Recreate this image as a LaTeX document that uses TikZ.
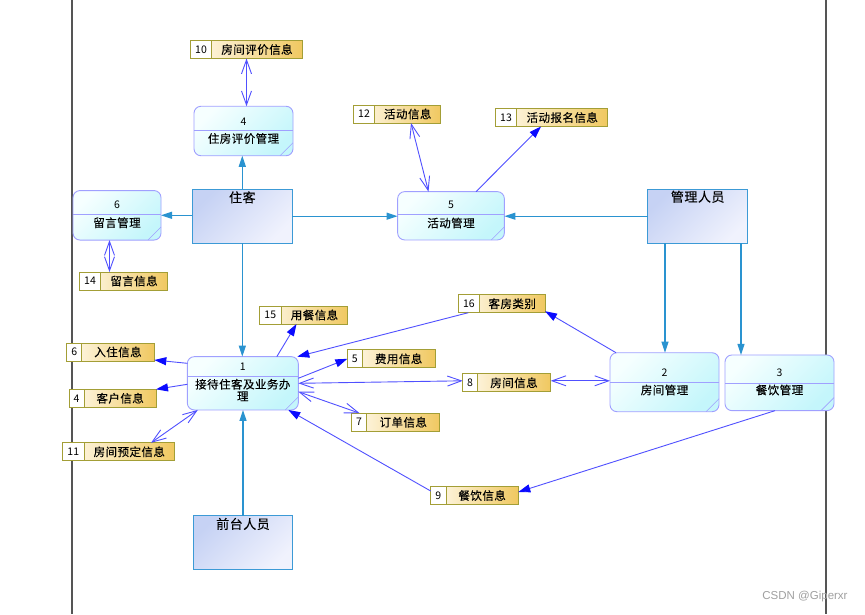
\documentclass[tikz,border=0pt]{standalone}
\usepackage{fontspec}
\setmainfont{Noto Sans CJK SC}
\newfontfamily\cjkf[LetterSpace=4,FakeBold=0.15]{Noto Sans CJK SC}
\newfontfamily\wmf{Liberation Sans}
\usetikzlibrary{arrows.meta,calc}
\definecolor{entb}{HTML}{3C9AD6}
\definecolor{entA}{HTML}{C6D2F4}
\definecolor{entB}{HTML}{F0F2FD}
\definecolor{procb}{HTML}{A0A0FF}
\definecolor{procA}{HTML}{F6FFFF}
\definecolor{procB}{HTML}{C4F6FB}
\definecolor{storeb}{HTML}{A39E36}
\definecolor{storeA}{HTML}{FFFBF0}
\definecolor{storeB}{HTML}{F0C860}
\definecolor{linec}{HTML}{2A93D0}
\definecolor{flowc}{HTML}{5050FF}
\definecolor{arrc}{HTML}{0A0AFF}
\definecolor{framec}{HTML}{555555}
\definecolor{wmc}{HTML}{A0A0A0}
\tikzset{
 entity/.style={draw=entb, line width=1pt, top color=entA, bottom color=entB, shading angle=45, inner sep=0pt, outer sep=0pt},
 proc/.style={draw=procb, line width=0.9pt, rounded corners=7pt, top color=procA, bottom color=procB, shading angle=45, inner sep=0pt, outer sep=0pt},
 store/.style={draw=storeb, line width=1pt, left color=storeA, right color=storeB, minimum height=18pt, inner sep=0pt, outer sep=0pt},
 numf/.style={font=\fontsize{10.5}{11}\selectfont, inner sep=0pt, text=black},
 ptxt/.style={font=\cjkf\fontsize{11.5}{12}\selectfont, align=center, inner sep=0pt},
 etxt/.style={font=\cjkf\fontsize{13}{14}\selectfont, inner sep=0pt},
 eline/.style={draw=linec, line width=1.1pt, -{Triangle[length=11pt,width=7pt]}},
 fflow/.style={draw=flowc, line width=0.9pt, -{Triangle[length=12pt,width=8pt,color=arrc]}},
 dflow/.style={draw=flowc, line width=0.9pt, {Straight Barb[length=14pt,width=10pt]}-{Straight Barb[length=14pt,width=10pt]}},
 wm/.style={font=\wmf\fontsize{11.5}{12}\selectfont, text=wmc, inner sep=0pt}
}
\newcommand{\proc}[9]{%
 \node[proc, minimum width=#3pt, minimum height=#4pt] (#1) at (#2) {};
 \draw[procb, line width=0.8pt] ([yshift=#5pt]#1.west) -- ([yshift=#5pt]#1.east);
 \draw[procb, line width=0.6pt] ([xshift=-13pt]#1.south east) -- ([yshift=13pt]#1.south east);
 \node[numf] (#1n) at ([yshift=#6pt]#1.center) {#8};
 \node[ptxt] (#1t) at ([yshift=#7pt]#1.center) {#9};
}
\newcommand{\dstore}[7]{%
 \node[store, minimum width=#4pt] (#1) at (#2,#3) {};
 \draw[storeb, line width=1pt, fill=white] (#1.north west) rectangle ([xshift=#5pt]#1.south west);
 \node[numf] (#1n) at ([xshift=#5*0.5pt]#1.west) {#6};
 \node[ptxt] (#1t) at ([xshift=#5*0.5pt]#1.center) {#7};
}
\newcommand{\ent}[6]{%
 \node[entity, minimum width=#3pt, minimum height=#4pt] (#1) at (#2) {};
 \node[etxt] (#1t) at ([yshift=-#5pt]#1.north) {#6};
}
\begin{document}
\begin{tikzpicture}[x=1pt,y=-1pt]
\fill[white] (0,0) rectangle (865,614);
\useasboundingbox (0,0) rectangle (865,614);
\draw[framec, line width=1.5pt] (72,0) -- (72,614);
\draw[framec, line width=1.5pt] (826,0) -- (826,614);

% entities
\ent{e1}{242.3,216.2}{100}{54.3}{8.3}{住客}
\ent{e2}{697.7,216.2}{100}{54.3}{7.7}{管理人员}
\ent{e3}{243,542.8}{99.4}{54.3}{8.3}{前台人员}

% processes
\proc{p4}{243.5,131}{99}{49.5}{1}{9}{-7.5}{4}{住房评价管理}
\proc{p6}{117,215.3}{88}{49.5}{0.6}{10.3}{-7.4}{6}{留言管理}
\proc{p5}{451,215.8}{106.7}{48.3}{1}{10.8}{-7.2}{5}{活动管理}
\proc{p1}{242.8,383.3}{111}{53.3}{6.6}{16.6}{-6.7}{1}{接待住客及业务办\\理}
\proc{p2}{664.5,382.2}{109}{59}{-0.5}{9.5}{-7.8}{2}{房间管理}
\proc{p3}{779.5,382.8}{109}{55.7}{-0.2}{9.8}{-7.2}{3}{餐饮管理}

% data stores
\dstore{s10}{246.5}{49.5}{112}{21}{10}{房间评价信息}
\dstore{s12}{397}{114}{87.5}{21.5}{12}{活动信息}
\dstore{s13}{551.5}{117.5}{112.5}{21.5}{13}{活动报名信息}
\dstore{s14}{123.3}{281}{88}{21.5}{14}{留言信息}
\dstore{s15}{303.5}{315}{88.5}{22}{15}{用餐信息}
\dstore{s16}{501.7}{303.7}{86.7}{21}{16}{客房类别}
\dstore{s6i}{110.5}{352}{87.6}{15}{6}{入住信息}
\dstore{s4c}{112.5}{398.3}{87}{15.3}{4}{客户信息}
\dstore{s11}{118.3}{451.8}{112}{22}{11}{房间预定信息}
\dstore{s5f}{391.2}{358.8}{87.7}{15}{5}{费用信息}
\dstore{s8}{506.7}{382.8}{88}{14.6}{8}{房间信息}
\dstore{s7}{395.8}{422.2}{88.3}{15}{7}{订单信息}
\dstore{s9}{474.5}{495.5}{87.6}{15.3}{9}{餐饮信息}

% entity -> process connectors
\draw[eline] (e1.north) -- (e1.north |- p4.south);
\draw[eline] (p6.east -| e1.west) -- (p6.east);
\draw[eline] (e1.east) -- (e1.east -| p5.west);
\draw[eline] (e2.west) -- (e2.west -| p5.east);
\draw[eline] (e1.south) -- (e1.south |- p1.north);
\coordinate (e2a) at ([xshift=-32.7pt]e2.south);
\coordinate (e2b) at ([xshift=43.3pt]e2.south);
\draw[eline] (e2a) -- (e2a |- p2.north);
\draw[eline] (e2b) -- (e2b |- p3.north);
\draw[eline] (e3.north) -- (e3.north |- p1.south);

% data flows
\draw[dflow] (s10.south) -- (s10.south |- p4.north);
\draw[dflow] ([xshift=14pt]s12.south) -- ([xshift=-22.5pt]p5.north);
\draw[fflow] ([xshift=25pt]p5.north) -- ([xshift=-10.5pt]s13.south);
\draw[dflow] ([xshift=-7.5pt]p6.south) -- ([xshift=-13.8pt]s14.north);
\draw[fflow] ([xshift=34pt]p1.north) -- ([xshift=-7pt]s15.south);
\draw[fflow] ([xshift=-33.4pt]s16.south) -- ([xshift=-1pt]p1.north east);
\draw[fflow] ([xshift=6pt]p2.north west) -- ([yshift=1.5pt]s16.south east);
\draw[fflow] ([yshift=5pt]p1.east) -- (s5f.west);
\draw[fflow] ([yshift=20pt]p1.west) -- ([yshift=1pt]s6i.south east);
\draw[fflow] ([yshift=-1pt]p1.west) -- (s4c.north east);
\draw[dflow] ([xshift=-45pt]p1.south) -- ([xshift=32.7pt]s11.north);
\draw[dflow] (p1.east) -- ([yshift=2pt]s8.west);
\coordinate (s8e) at ([yshift=2pt]s8.east);
\draw[dflow] (s8e) -- (s8e -| p2.west);
\draw[dflow] ([yshift=-8.4pt]p1.east) -- ([xshift=8pt]s7.north west);
\draw[fflow] ([yshift=4.5pt]s9.west) -- ([xshift=-10pt]p1.south east);
\draw[fflow] ([xshift=-4.5pt]p3.south) -- ([yshift=3.5pt]s9.east);

\node[wm] (wmark) at (805,597) {CSDN @Giperxr};
\end{tikzpicture}
\end{document}
